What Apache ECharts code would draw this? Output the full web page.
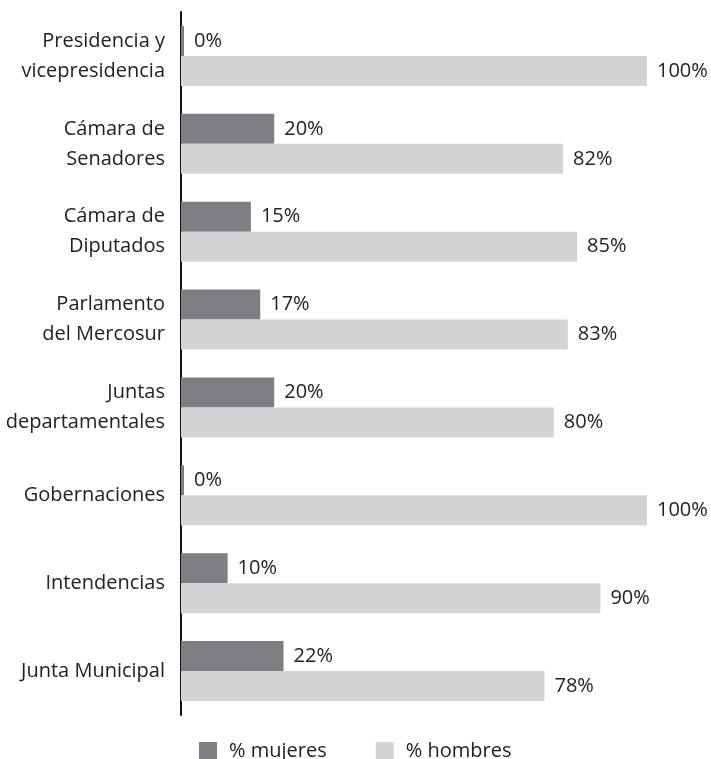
<!DOCTYPE html>
<html>
<head>
<meta charset="utf-8">
<script src="https://cdn.jsdelivr.net/npm/echarts@6/dist/echarts.min.js"></script>
<style>
  html, body { margin: 0; padding: 0; background: #fff; }
  #chart { width: 711px; height: 759px; }
</style>
</head>
<body>
<div id="chart"></div>
<script>
// Cargos electivos: porcentaje de mujeres y hombres
const categories = [
  'Presidencia y\nvicepresidencia',
  'Cámara de\nSenadores',
  'Cámara de\nDiputados',
  'Parlamento\ndel Mercosur',
  'Juntas\ndepartamentales',
  'Gobernaciones',
  'Intendencias',
  'Junta Municipal'
];
const mujeres = [0, 20, 15, 17, 20, 0, 10, 22];
const hombres = [100, 82, 85, 83, 80, 100, 90, 78];
const seriesNames = ['% mujeres', '% hombres'];

const FONT = '"Open Sans", Lato, sans-serif';
const TEXT = '#222222';

const chart = echarts.init(document.getElementById('chart'), null, { renderer: 'canvas' });

const labelStyle = {
  show: true,
  position: 'right',
  distance: 10,
  formatter: '{c}%',
  color: TEXT,
  fontFamily: FONT,
  fontSize: 20
};

chart.setOption({
  animation: false,
  grid: { left: 181, right: 64, top: 12, bottom: 44, containLabel: false },
  legend: {
    top: 736,
    left: 194,
    itemWidth: 18,
    itemHeight: 18,
    itemGap: 49,
    icon: 'rect',
    textStyle: { color: TEXT, fontFamily: FONT, fontSize: 20, padding: [0, 0, 0, 7] },
    data: seriesNames
  },
  xAxis: {
    type: 'value',
    min: 0,
    max: 100,
    show: false
  },
  yAxis: {
    type: 'category',
    data: categories,
    inverse: true,
    axisLine: { show: true, lineStyle: { color: '#111111', width: 2 } },
    axisTick: { show: false },
    axisLabel: {
      color: TEXT,
      fontFamily: FONT,
      fontSize: 20,
      lineHeight: 30,
      margin: 16,
      align: 'right'
    }
  },
  series: [
    {
      name: seriesNames[0],
      type: 'bar',
      data: mujeres,
      barWidth: 30,
      barGap: '0%',
      barMinHeight: 3,
      itemStyle: { color: '#7f7f83' },
      label: labelStyle
    },
    {
      name: seriesNames[1],
      type: 'bar',
      data: hombres,
      barWidth: 30,
      barGap: '0%',
      itemStyle: { color: '#d3d4d6' },
      label: labelStyle
    }
  ]
});
</script>
</body>
</html>
